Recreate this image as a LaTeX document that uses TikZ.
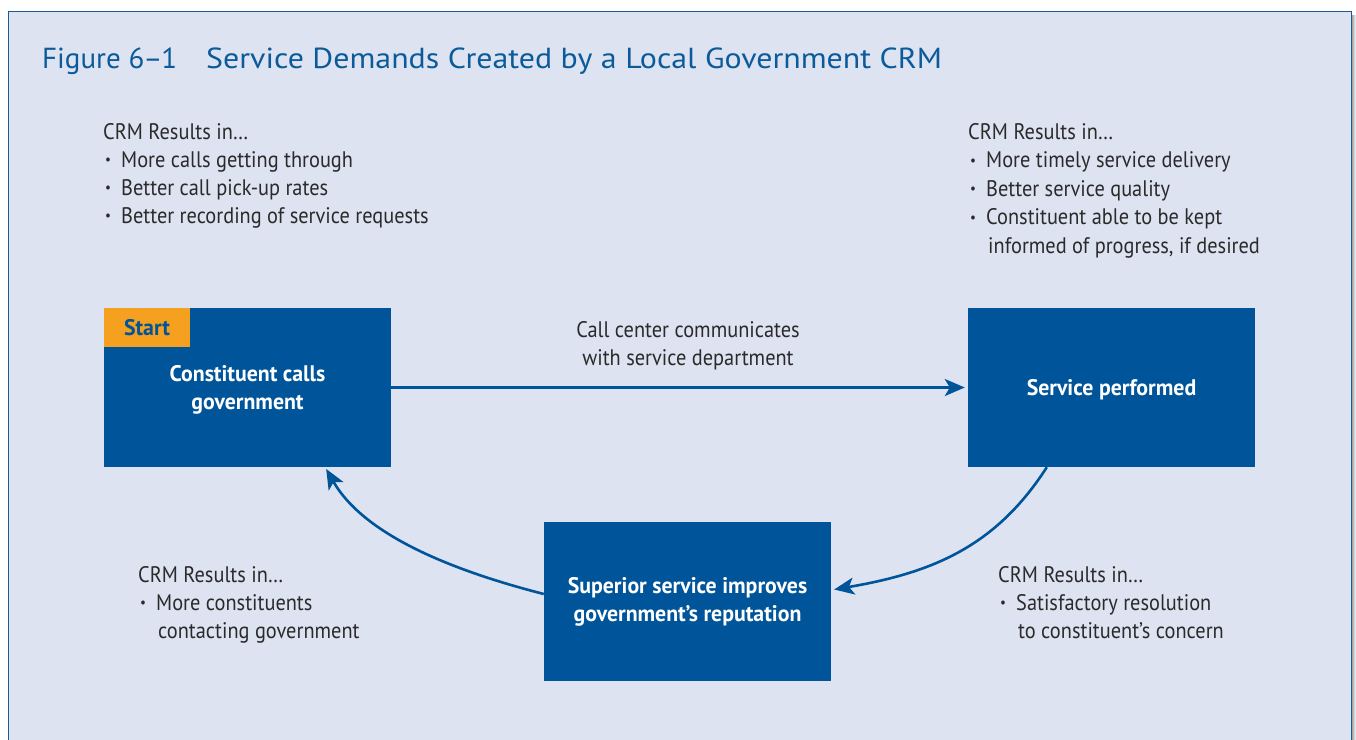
\documentclass[tikz,border=0pt]{standalone}
\usepackage{fontspec}
\setmainfont{PT Sans}
\newfontfamily\cond[FakeStretch=0.905]{PT Sans}
\newfontfamily\condb[FakeStretch=0.97]{PT Sans Bold}
\newfontfamily\titlefont[FakeStretch=1.1]{PT Sans}
\newfontfamily\titlenumfont{PT Sans}
\usetikzlibrary{arrows.meta}
\definecolor{bgblue}{HTML}{DDE3F1}
\definecolor{frameblue}{HTML}{1A5A9A}
\definecolor{boxblue}{HTML}{00559A}
\definecolor{titleblue}{HTML}{0B5A9A}
\definecolor{taborange}{HTML}{F5A01E}
\definecolor{textgray}{HTML}{2A2A2A}
\newcommand{\bodyfont}{\cond\fontsize{22.5}{28}\selectfont}
\newcommand{\boxfont}{\condb\fontsize{22.5}{28}\selectfont}
\newcommand{\bul}{\makebox[16pt][l]{\raisebox{2.3pt}{\fontsize{14.5}{14}\selectfont •}}}
\tikzset{
  txt/.style={anchor=base west, inner sep=0pt, text=textgray, font=\bodyfont},
  bluebox/.style={fill=boxblue, draw=none, minimum width=287pt, minimum height=159pt,
    inner sep=0pt, text=white, font=\boxfont, align=center},
  arr/.style={draw=boxblue, line width=2.6pt, -{Stealth[length=20pt, width=17pt, inset=5pt]}},
}
\begin{document}
\begin{tikzpicture}[x=1pt, y=-1pt]
\useasboundingbox (0,0) rectangle (1356,739);
% shadow and frame
\shade[left color=black!35, right color=white] (1352,15) rectangle (1356,739);
\fill[bgblue] (8.5,11.5) rectangle (1351.5,745);
\draw[frameblue, line width=1.6pt] (8.5,745) -- (8.5,11.5) -- (1351.5,11.5) -- (1351.5,745);
% title
\node[anchor=base west, inner sep=0pt, text=titleblue, font=\titlefont\fontsize{29}{32}\selectfont] (title) at (42,68)
  {\makebox[164pt][l]{\titlenumfont Figure 6\kern-1pt–\kern-1pt1}Service Demands Created by a Local Government CRM};
% boxes
\node[bluebox, text depth=-2pt] (cg) at (247.5,387.5) {Constituent calls\\government};
\node[bluebox, text depth=-2pt] (sp) at (1111.5,387.5) {Service performed};
\node[bluebox] (su) at (687.5,601.5) {Superior service improves\\government’s reputation};
\node[fill=taborange, inner sep=0pt, minimum width=86pt, minimum height=39pt, anchor=north west,
  text=boxblue, font=\boxfont] (start) at (cg.north west) {Start};
% top left
\node[txt] (tl0) at (103,139) {CRM Results in…};
\node[txt] (tl1) at (105,167) {\bul More calls getting through};
\node[txt] (tl2) at (105,195) {\bul Better call pick-up rates};
\node[txt] (tl3) at (105,223) {\bul Better recording of service requests};
% top right
\node[txt] (tr0) at (968,139) {CRM Results in…};
\node[txt] (tr1) at (970,167.5) {\bul More timely service delivery};
\node[txt] (tr2) at (970,196) {\bul Better service quality};
\node[txt] (tr3) at (970,224.5) {\bul Constituent able to be kept};
\node[txt] (tr4) at (988,253) {informed of progress, if desired};
% bottom left
\node[txt] (bl0) at (138,582) {CRM Results in…};
\node[txt] (bl1) at (140,610) {\bul More constituents};
\node[txt] (bl2) at (158,638) {contacting government};
% bottom right
\node[txt] (br0) at (998,582) {CRM Results in…};
\node[txt] (br1) at (1000,610) {\bul Satisfactory resolution};
\node[txt] (br2) at (1018,638) {to constituent’s concern};
% arrow label
\node[anchor=base, inner sep=0pt, text=textgray, font=\bodyfont] (lbl1) at (688,337) {Call center communicates};
\node[anchor=base, inner sep=0pt, text=textgray, font=\bodyfont] (lbl2) at (688,365) {with service department};
% connectors
\draw[arr, shorten >=3pt] (cg.east) -- (sp.west);
\draw[arr, shorten >=3pt] ([xshift=79pt]sp.south west) .. controls (995,548) and (930,573) .. ([yshift=11.5pt]su.east);
\draw[arr, shorten >=2pt] ([yshift=7.5pt]su.west) .. controls (458,572) and (365,537) .. ([xshift=-66pt]cg.south east);
\end{tikzpicture}
\end{document}
